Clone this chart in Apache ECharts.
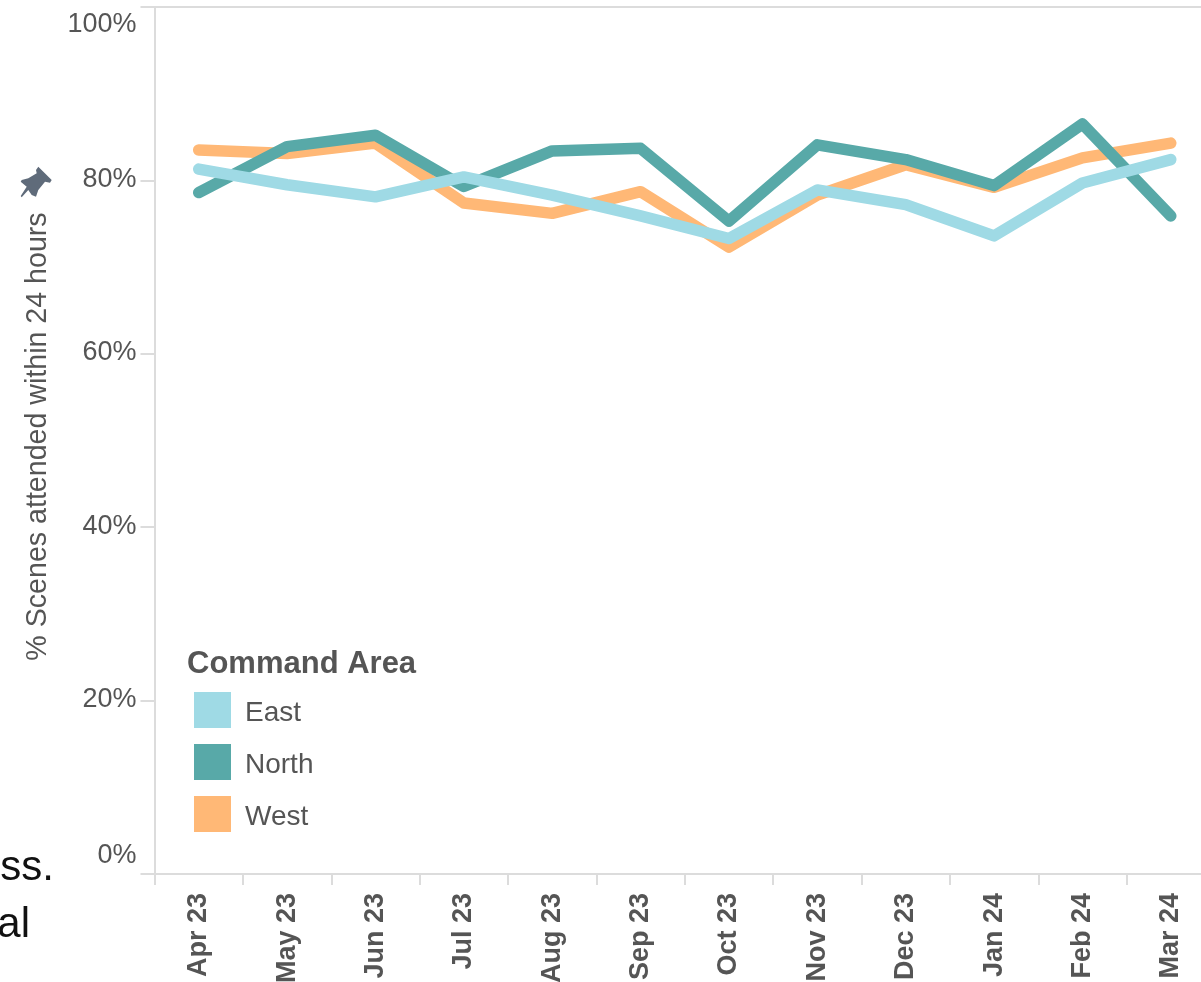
<!DOCTYPE html>
<html>
<head>
<meta charset="utf-8">
<style>html,body{margin:0;padding:0;background:#fff}#c{width:1201px;height:982px}</style>
<script src="https://cdn.jsdelivr.net/npm/echarts@6/dist/echarts.min.js"></script>
</head>
<body>
<div id="c"></div>
<script>
var categories = ['Apr 23','May 23','Jun 23','Jul 23','Aug 23','Sep 23','Oct 23','Nov 23','Dec 23','Jan 24','Feb 24','Mar 24'];
var east  = [81.3,79.5,78.1,80.4,78.3,75.9,73.3,78.9,77.2,73.6,79.7,82.4];
var north = [78.6,83.9,85.2,79.3,83.4,83.7,75.3,84.1,82.4,79.4,86.5,75.9];
var west  = [83.5,83.1,84.3,77.4,76.2,78.7,72.3,78.3,81.8,79.2,82.6,84.3];
var legendTitle = 'Command Area';
var yTitle = '% Scenes attended within 24 hours';

var FONT = '"Liberation Sans", Arial, sans-serif';
var TEXT = '#555555', AXIS = '#dcdcdc';
var chart = echarts.init(document.getElementById('c'), null, {renderer:'canvas'});
function line(name, data, color){
  return {name:name, type:'line', data:data, symbol:'none', silent:true, animation:false,
    lineStyle:{color:color, width:11.5, cap:'round', join:'round'}, itemStyle:{color:color}};
}
chart.setOption({
  animation:false,
  backgroundColor:'#fff',
  textStyle:{fontFamily:FONT},
  title:{text:legendTitle, left:187, top:649, textStyle:{fontFamily:FONT, fontSize:31, fontWeight:'bold', color:TEXT}, padding:0},
  legend:{orient:'vertical', left:194, top:692, itemWidth:37, itemHeight:36, itemGap:16, icon:'rect',
    data:['East','North','West'], padding:0,
    formatter:'{t|{name}}',
    textStyle:{fontFamily:FONT, fontSize:28, color:TEXT,
      rich:{t:{fontFamily:FONT, fontSize:28, color:TEXT, padding:[6,0,0,9]}}}},
  grid:{left:154.5, top:7, width:1060.5, height:867, containLabel:false, outerBoundsMode:'none'},
  xAxis:[
    {type:'category', data:categories, boundaryGap:true, position:'bottom',
     axisLine:{show:true, lineStyle:{color:AXIS, width:2}},
     axisTick:{show:true, length:11, alignWithLabel:false, lineStyle:{color:AXIS, width:2}},
     axisLabel:{rotate:90, interval:0, margin:19, fontFamily:FONT, fontSize:27, fontWeight:'bold', color:TEXT},
     splitLine:{show:false}},
    {type:'category', data:categories, position:'top',
     axisLine:{show:true, lineStyle:{color:AXIS, width:2}},
     axisTick:{show:false}, axisLabel:{show:false}, splitLine:{show:false}}
  ],
  yAxis:{type:'value', min:0, max:100, interval:20,
    name:yTitle, nameLocation:'middle', nameGap:102, nameRotate:90,
    nameTextStyle:{fontFamily:FONT, fontSize:28.6, color:TEXT, padding:[0,0,0,8]},
    axisLine:{show:true, lineStyle:{color:AXIS, width:2}},
    axisTick:{show:true, length:14, lineStyle:{color:AXIS, width:2}},
    axisLabel:{margin:18, fontFamily:FONT, fontSize:27, color:TEXT, padding:[0,0,2,0],
      formatter:function(v){ return v===100 ? '{top|100%}' : (v===0 ? '{bot|0%}' : v+'%'); },
      rich:{top:{fontFamily:FONT, fontSize:27, color:TEXT, padding:[4,0,0,0]},
            bot:{fontFamily:FONT, fontSize:27, color:TEXT, padding:[0,0,3,0]}},
      verticalAlignMinLabel:'bottom', verticalAlignMaxLabel:'top'},
    splitLine:{show:false}},
  series:[line('West',west,'#ffb876'), line('North',north,'#58a9a8'), line('East',east,'#9fdae5')],
  graphic:[
    {type:'text', x:54, y:868, silent:true, style:{text:'ss.', fontFamily:FONT, fontSize:42, fill:'#111', align:'right', verticalAlign:'middle'}},
    {type:'text', x:30, y:925, silent:true, style:{text:'al', fontFamily:FONT, fontSize:42, fill:'#111', align:'right', verticalAlign:'middle'}},
    {type:'polygon', silent:true, shape:{points:[[38.3,166.7],[51.7,180],[50,182.7],[45,181.7],[38.3,190],[36,196.7],[31.7,195],[28.3,190],[21.7,197.3],[20.7,196],[26.7,186.7],[20.7,181.7],[21.7,180],[28.3,178.3],[36.7,173.3],[36,170]]}, style:{fill:'#5f6b7a'}}
  ]
});
</script>
</body>
</html>
